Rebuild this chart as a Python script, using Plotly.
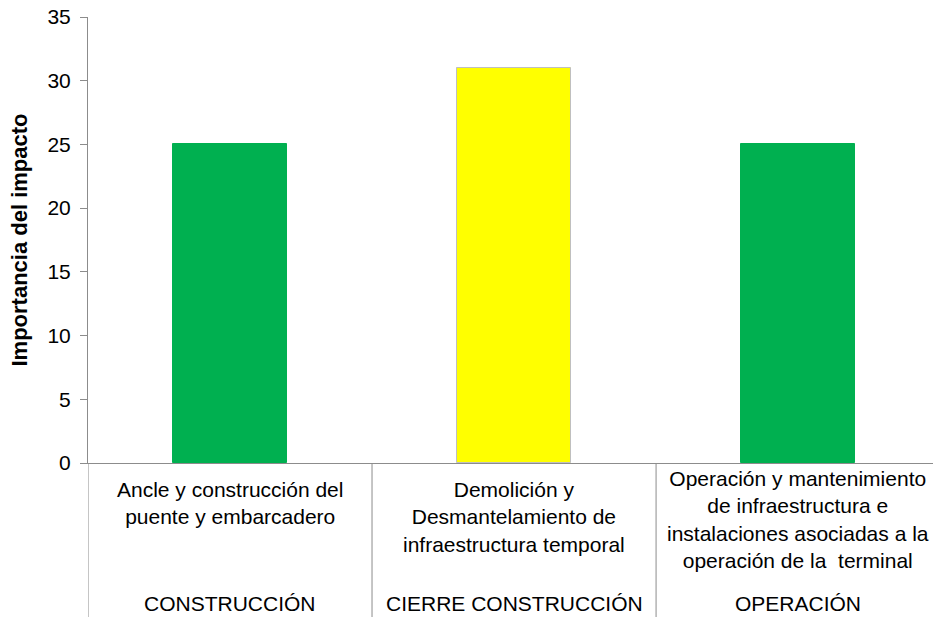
import plotly.graph_objects as go

# Impact importance per project activity, grouped by project phase
actividades = [
    "Ancle y construcción del<br>puente y embarcadero",
    "Demolición y<br>Desmantelamiento de<br>infraestructura temporal",
    "Operación y mantenimiento<br>de infraestructura e<br>instalaciones asociadas a la<br>operación de la  terminal",
]
fases = ["CONSTRUCCIÓN", "CIERRE CONSTRUCCIÓN", "OPERACIÓN"]
importancia = [25, 31, 25]
colores = ["#00B050", "#FFFF00", "#00B050"]
bordes = ["#00B050", "#BFBFBF", "#00B050"]
y_ticks = [0, 5, 10, 15, 20, 25, 30, 35]

W, H = 933, 617
ML, MT, MB = 88, 17, 154
plot_h = H - MT - MB
axis_color = "#8C8C8C"
font_family = "Liberation Sans, Arial, sans-serif"

pos = list(range(len(actividades)))

fig = go.Figure()
fig.add_trace(go.Bar(
    x=pos,
    y=importancia,
    width=0.4,
    marker=dict(color=colores, line=dict(color=bordes, width=1)),
    hoverinfo="skip",
))

# Category separators running from the x axis to the bottom of the label area
shapes = []
for b in [p - 0.5 for p in pos]:
    shapes.append(dict(
        type="line", xref="x", yref="paper",
        x0=b, x1=b, y0=0, y1=-MB / plot_h,
        line=dict(color=axis_color, width=1),
    ))

annotations = []
label_tops = [476, 476, 465]
for p, txt, top in zip(pos, actividades, label_tops):
    annotations.append(dict(
        x=p, xref="x", y=-(top - (H - MB)) / plot_h, yref="paper",
        text=txt, showarrow=False, xanchor="center", yanchor="top",
        align="center", font=dict(size=21, color="#000000", family=font_family),
    ))
for p, txt in zip(pos, fases):
    annotations.append(dict(
        x=p, xref="x", y=-(603 - (H - MB)) / plot_h, yref="paper",
        text=txt, showarrow=False, xanchor="center", yanchor="middle",
        font=dict(size=21, color="#000000", family=font_family),
    ))

fig.update_layout(
    width=W, height=H,
    margin=dict(l=ML, r=0, t=MT, b=MB, pad=0),
    plot_bgcolor="white", paper_bgcolor="white",
    showlegend=False,
    bargap=0,
    font=dict(family=font_family, color="#000000"),
    shapes=shapes,
    annotations=annotations,
    xaxis=dict(
        range=[-0.5, 2.475],
        showticklabels=False, ticks="",
        showline=True, linecolor=axis_color, linewidth=1,
        showgrid=False, zeroline=False, fixedrange=True,
    ),
    yaxis=dict(
        range=[0, 35],
        tickvals=y_ticks,
        ticks="outside", ticklen=7, tickcolor=axis_color, tickwidth=1,
        ticklabelstandoff=5,
        showline=True, linecolor=axis_color, linewidth=1,
        showgrid=False, zeroline=False,
        tickfont=dict(size=21, color="#000000", family=font_family),
        title=dict(
            text="<b>Importancia del impacto</b>",
            font=dict(size=22, color="#000000", family=font_family),
            standoff=13,
        ),
    ),
)

fig.write_html("out.html")
